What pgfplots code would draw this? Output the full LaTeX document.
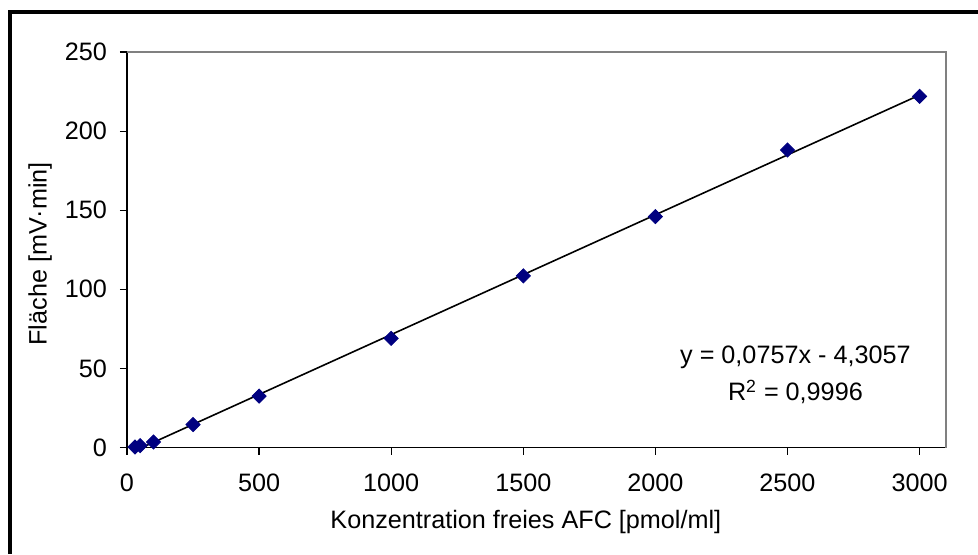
\documentclass[border=0pt]{standalone}
\usepackage{fontspec}
\setmainfont{Liberation Sans}
\usepackage{pgfplots}
\pgfplotsset{compat=1.18}
\definecolor{excelnavy}{RGB}{0,0,128}

\begin{document}
\begin{tikzpicture}
\useasboundingbox (0,0) rectangle (489pt,277pt);
% outer chart frame (only left and top edge visible)
\draw[line width=2pt] (4.75pt,0) -- (4.75pt,271.25pt) -- (489pt,271.25pt);
\begin{axis}[
  at={(63.5pt,53.25pt)}, anchor=south west,
  scale only axis, width=409.5pt, height=197.75pt,
  xmin=0, xmax=3100, ymin=0, ymax=250,
  xtick={0,500,...,3000}, ytick={0,50,...,250},
  axis x line*=bottom, axis y line*=left,
  axis line style={black, line width=0.6pt},
  tick align=outside, major tick length=3.5pt,
  tick style={black, line width=0.6pt},
  font=\fontsize{12.6}{15}\selectfont,
  /pgf/number format/assume math mode=true,
  /pgf/number format/.cd, use comma, 1000 sep={},
  /pgfplots/.cd,
  xticklabel style={yshift=-6pt},
  yticklabel style={xshift=-3pt},
  xlabel={Konzentration freies AFC [pmol/ml]},
  ylabel={Fläche [mV·min]},
  xlabel style={at={(axis description cs:0.487,-0.188)}, anchor=center},
  ylabel style={at={(axis description cs:-0.106,0.49)}, anchor=center},
  clip=false,
]
\draw[gray, line width=0.8pt] (rel axis cs:0,1) -- (rel axis cs:1,1) -- (rel axis cs:1,0);
\addplot[only marks, mark=square*, mark size=2.5pt,
  mark options={rotate=45, fill=excelnavy, draw=excelnavy}] coordinates {
  (30,0.3) (50,1.2) (100,3.5) (250,14.5) (500,32.5)
  (1000,69) (1500,108.5) (2000,146) (2500,188) (3000,222)
};
% linear trendline y = 0,0757x - 4,3057
\addplot[black, line width=0.8pt] coordinates {(57,0) (3000,222.8)};
\node at (axis cs:2530,57.3) {y = 0,0757x - 4,3057};
\node at (axis cs:2530,35.2) {R\textsuperscript{2} = 0,9996};
\end{axis}
\end{tikzpicture}
\end{document}
